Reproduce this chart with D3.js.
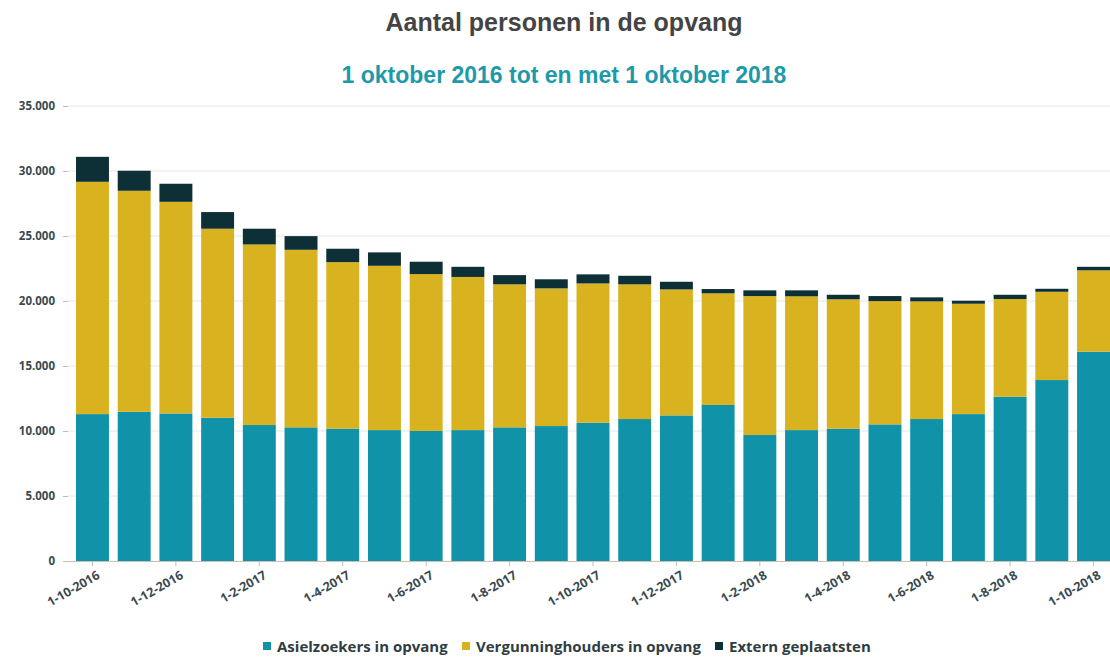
<!DOCTYPE html>
<html><head><meta charset="utf-8">
<script src="https://cdn.jsdelivr.net/npm/d3@7"></script>
<style>body{margin:0;background:#fff}svg{display:block}</style>
</head><body>
<svg id="c" width="1110" height="657"></svg>
<script>
const categories = ["1-10-2016","1-11-2016","1-12-2016","1-1-2017","1-2-2017","1-3-2017","1-4-2017","1-5-2017","1-6-2017","1-7-2017","1-8-2017","1-9-2017","1-10-2017","1-11-2017","1-12-2017","1-1-2018","1-2-2018","1-3-2018","1-4-2018","1-5-2018","1-6-2018","1-7-2018","1-8-2018","1-9-2018","1-10-2018"];
const asielzoekers = [11300,11480,11350,11020,10460,10280,10180,10070,10000,10070,10280,10380,10640,10920,11200,12000,9690,10070,10180,10510,10920,11300,12640,13920,16100];
const vergunninghouders = [17870,17000,16280,14540,13890,13660,12810,12640,12070,11780,11000,10590,10710,10360,9690,8590,10690,10290,9950,9480,9050,8490,7510,6790,6260];
const extern = [1920,1540,1390,1280,1210,1050,1030,1030,950,780,710,700,700,660,590,330,440,460,350,390,310,230,330,230,270];
const seriesNames = ["Asielzoekers in opvang","Vergunninghouders in opvang","Extern geplaatsten"];
const colors = ["#1093a8","#d9b21f","#0d2f36"];
const yTicks = [0,5000,10000,15000,20000,25000,30000,35000];
const xTickLabels = categories.filter((d,i)=>i%2===0);

const svg = d3.select("#c");
const W = 1110;
const x = d3.scaleBand().domain(categories).range([76,1110]).paddingInner(0.21).paddingOuter(0);
const y = d3.scaleLinear().domain([0,35000]).range([561,106]);
const fmt = v => d3.format(",")(v).replace(/,/g,".");

// title
svg.append("text").attr("x",564).attr("y",31).attr("text-anchor","middle")
  .attr("font-family","Liberation Sans, Arial, sans-serif").attr("font-weight","bold")
  .attr("font-size",25).attr("fill","#444").text("Aantal personen in de opvang");
svg.append("text").attr("x",564).attr("y",83).attr("text-anchor","middle")
  .attr("font-family","Liberation Sans, Arial, sans-serif").attr("font-weight","bold")
  .attr("font-size",23).attr("fill","#1d9aa9").text("1 oktober 2016 tot en met 1 oktober 2018");

// gridlines
svg.append("g").selectAll("line").data(yTicks.filter(d=>d>0)).join("line")
  .attr("x1",68).attr("x2",W).attr("y1",d=>y(d)).attr("y2",d=>y(d))
  .attr("stroke","#e6e6e6").attr("stroke-width",1);

// y axis
const yAxis = svg.append("g").attr("transform","translate(68,0)")
  .call(d3.axisLeft(y).tickValues(yTicks).tickFormat(fmt).tickSize(5).tickPadding(8));
yAxis.select(".domain").remove();
yAxis.selectAll(".tick line").attr("stroke","#bbb");
yAxis.selectAll("text").attr("font-family","Open Sans, sans-serif").attr("font-weight","bold")
  .attr("font-size",11.5).attr("fill","#3a4a50");

// stacks
const table = categories.map((c,i)=>({cat:c, a:asielzoekers[i], v:vergunninghouders[i], e:extern[i]}));
const stack = d3.stack().keys(["a","v","e"])(table);
svg.append("g").selectAll("g").data(stack).join("g").attr("fill",(d,i)=>colors[i])
  .selectAll("rect").data(d=>d).join("rect")
  .attr("x",d=>x(d.data.cat)).attr("width",x.bandwidth())
  .attr("y",d=>y(d[1])).attr("height",d=>y(d[0])-y(d[1]));

// x axis
const xAxis = svg.append("g").attr("transform","translate(0,561)")
  .call(d3.axisBottom(x).tickValues(xTickLabels).tickSize(5).tickPadding(3));
xAxis.select(".domain").attr("d","M63,0.5H"+W).attr("stroke","#cdbfb8");
xAxis.selectAll(".tick line").attr("stroke","#bbb");
xAxis.selectAll("text").attr("font-family","Open Sans, sans-serif").attr("font-weight","bold")
  .attr("font-size",12.5).attr("fill","#3a4a50")
  .attr("text-anchor","end").attr("dx","-0.1em").attr("dy","0.85em")
  .attr("transform","rotate(-30)");

// legend
const legendX = [263,462,715];
const lg = svg.append("g").selectAll("g").data(seriesNames).join("g")
  .attr("transform",(d,i)=>`translate(${legendX[i]},646)`);
lg.append("rect").attr("x",0).attr("y",-4).attr("width",8).attr("height",8).attr("fill",(d,i)=>colors[i]);
lg.append("text").attr("x",14).attr("y",5.5).attr("font-family","Open Sans, sans-serif")
  .attr("font-weight","bold").attr("font-size",15).attr("fill","#2f3d42").text(d=>d);
</script>
</body></html>
